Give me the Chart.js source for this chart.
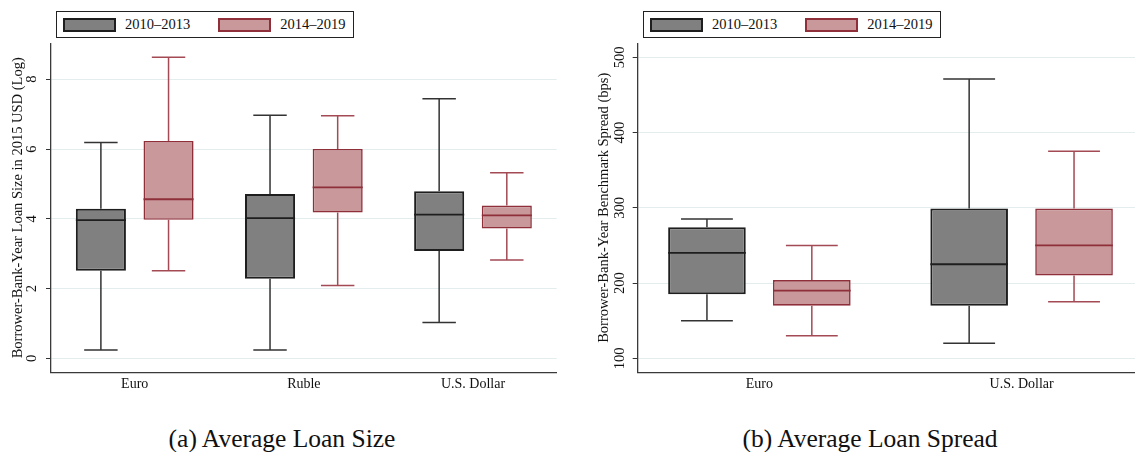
<!DOCTYPE html>
<html>
<head>
<meta charset="utf-8">
<script src="https://cdn.jsdelivr.net/npm/chart.js@4.4.1/dist/chart.umd.min.js"></script>
<style>
  html, body { margin: 0; padding: 0; background: #fff; width: 1135px; height: 452px; overflow: hidden; }
  .wrap { position: absolute; top: 0; height: 400px; }
  .legend {
    position: absolute; top: 11px; width: 298px; height: 27px; box-sizing: border-box;
    border: 1px solid #222; background: #fff; display: flex; align-items: center; padding-left: 6px;
    font-family: "Liberation Serif", "Times New Roman", serif; font-size: 14.5px; color: #111;
    white-space: nowrap;
  }
  .legend .item { display: flex; align-items: center; margin-right: 28px; white-space: nowrap; flex: none; }
  .legend .swatch { width: 53px; height: 14px; box-sizing: border-box; border: 2px solid; margin-right: 9px; flex: none; }
  .caption {
    position: absolute; top: 424px; transform: translateX(-50%); white-space: nowrap;
    font-family: "Liberation Serif", "Times New Roman", serif; font-size: 25.5px; color: #111;
  }
</style>
</head>
<body>
<div class="wrap" style="left:0; width:570px;"><canvas id="sizeChart"></canvas></div>
<div class="wrap" style="left:570px; width:565px;"><canvas id="spreadChart"></canvas></div>
<div class="legend" id="sizeLegend" style="left:56px;"></div>
<div class="legend" id="spreadLegend" style="left:643px;"></div>
<div class="caption" style="left:282px;">(a) Average Loan Size</div>
<div class="caption" style="left:870px;">(b) Average Loan Spread</div>

<script>
const periods = ['2010–2013', '2014–2019'];

// loan size (log)
const sizeCats = ['Euro', 'Ruble', 'U.S. Dollar'];
// each row: lower whisker, Q1, median, Q3, upper whisker
const sizeEarly = [[0.24, 2.51, 3.96, 4.29, 6.19], [0.24, 2.28, 4.02, 4.71, 6.97], [1.03, 3.08, 4.12, 4.79, 7.44]];
const sizeLate = [[2.51, 3.97, 4.56, 6.23, 8.63], [2.09, 4.18, 4.90, 6.00, 6.95], [2.82, 3.72, 4.10, 4.38, 5.32]];
const sizeTicks = [0, 2, 4, 6, 8];

// loan spread (bps)
const spreadCats = ['Euro', 'U.S. Dollar'];
const spreadEarly = [[150, 185, 240, 274, 285], [120, 170, 225, 299, 471]];
const spreadLate = [[130, 170, 190, 204, 250], [175, 210, 250, 299, 375]];
const spreadTicks = [100, 200, 300, 400, 500];

const serif = '"Liberation Serif", "Times New Roman", serif';
const styles = [
  { fill: '#808080', edge: '#1e1e1e', whisker: '#333333', width: 2 },
  { fill: '#c8989b', edge: '#8e2f3a', whisker: '#a34a54', width: 1.6 }
];

// whiskers, caps and median line on top of the floating bars
const whiskers = {
  id: 'whiskers',
  afterDatasetsDraw(chart) {
    const ctx = chart.ctx;
    const y = chart.scales.y;
    chart.data.datasets.forEach((ds, d) => {
      const meta = chart.getDatasetMeta(d);
      meta.data.forEach((bar, i) => {
        const [lo, q1, med, q3, hi] = ds.stats[i];
        const half = bar.width / 2;
        const cap = bar.width * 0.334;
        ctx.save();
        ctx.strokeStyle = ds.whiskerColor;
        ctx.lineWidth = 1.5;
        ctx.beginPath();
        ctx.moveTo(bar.x, y.getPixelForValue(q3));
        ctx.lineTo(bar.x, y.getPixelForValue(hi));
        ctx.moveTo(bar.x, y.getPixelForValue(q1));
        ctx.lineTo(bar.x, y.getPixelForValue(lo));
        ctx.moveTo(bar.x - cap, y.getPixelForValue(hi));
        ctx.lineTo(bar.x + cap, y.getPixelForValue(hi));
        ctx.moveTo(bar.x - cap, y.getPixelForValue(lo));
        ctx.lineTo(bar.x + cap, y.getPixelForValue(lo));
        ctx.stroke();
        ctx.strokeStyle = ds.borderColor;
        ctx.lineWidth = 1.8;
        ctx.beginPath();
        ctx.moveTo(bar.x - half, y.getPixelForValue(med));
        ctx.lineTo(bar.x + half, y.getPixelForValue(med));
        ctx.stroke();
        ctx.restore();
      });
    });
  }
};

function boxChart(id, cats, early, late, ticks, opt) {
  const sets = [early, late].map((rows, d) => ({
    label: periods[d],
    data: rows.map((r, i) => ({ x: i, y: [r[1], r[3]] })),
    stats: rows,
    backgroundColor: styles[d].fill,
    borderColor: styles[d].edge,
    borderWidth: styles[d].width,
    borderSkipped: false,
    whiskerColor: styles[d].whisker,
    categoryPercentage: 0.8,
    barPercentage: 0.74
  }));

  return new Chart(document.getElementById(id), {
    type: 'bar',
    data: { datasets: sets },
    options: {
      responsive: true,
      maintainAspectRatio: false,
      animation: false,
      layout: { padding: { left: 0, right: opt.padRight, top: 43.3, bottom: 0 } },
      plugins: { legend: { display: false }, tooltip: { enabled: false } },
      scales: {
        x: {
          type: 'linear',
          min: opt.xMin,
          max: opt.xMax,
          offset: false,
          afterBuildTicks: (s) => { s.ticks = cats.map((c, i) => ({ value: i })); },
          afterFit: (s) => { s.height = 27.7; },
          grid: { display: false, drawTicks: false, offset: false },
          border: { color: '#3a3a3a', width: 1.3 },
          ticks: {
            callback: (v) => cats[v],
            autoSkip: false, maxRotation: 0, padding: 4,
            color: '#111', font: { family: serif, size: 14 }
          }
        },
        y: {
          min: opt.yMin,
          max: opt.yMax,
          afterBuildTicks: (s) => { s.ticks = ticks.map((v) => ({ value: v })); },
          afterFit: (s) => { s.width = opt.axisWidth; },
          grid: { color: '#e4eded', lineWidth: 1, tickColor: '#333', tickLength: 5 },
          border: { color: '#3a3a3a', width: 1.3 },
          ticks: {
            minRotation: 90, maxRotation: 90, crossAlign: 'center', padding: opt.tickPad,
            color: '#111', font: { family: serif, size: 14.5 }
          },
          title: {
            display: true, text: opt.title, color: '#111',
            font: { family: serif, size: 14.5 },
            padding: { top: opt.titlePad, bottom: 0 }
          }
        }
      }
    },
    plugins: [whiskers]
  });
}

function makeLegend(id) {
  const el = document.getElementById(id);
  periods.forEach((p, d) => {
    const item = document.createElement('span');
    item.className = 'item';
    const sw = document.createElement('span');
    sw.className = 'swatch';
    sw.style.background = styles[d].fill;
    sw.style.borderColor = styles[d].edge;
    item.appendChild(sw);
    item.appendChild(document.createTextNode(p));
    el.appendChild(item);
  });
}

boxChart('sizeChart', sizeCats, sizeEarly, sizeLate, sizeTicks, {
  xMin: -0.495, xMax: 2.495, yMin: -0.4, yMax: 9.03,
  padRight: 13.3, axisWidth: 51, tickPad: 9.7, titlePad: 9.6,
  title: 'Borrower-Bank-Year Loan Size in 2015 USD (Log)'
});

boxChart('spreadChart', spreadCats, spreadEarly, spreadLate, spreadTicks, {
  xMin: -0.4641, xMax: 1.4325, yMin: 81.4, yMax: 518.6,
  padRight: 0, axisWidth: 67.7, tickPad: 1.3, titlePad: 25.3,
  title: 'Borrower-Bank-Year Benchmark Spread (bps)'
});

makeLegend('sizeLegend');
makeLegend('spreadLegend');
</script>
</body>
</html>
